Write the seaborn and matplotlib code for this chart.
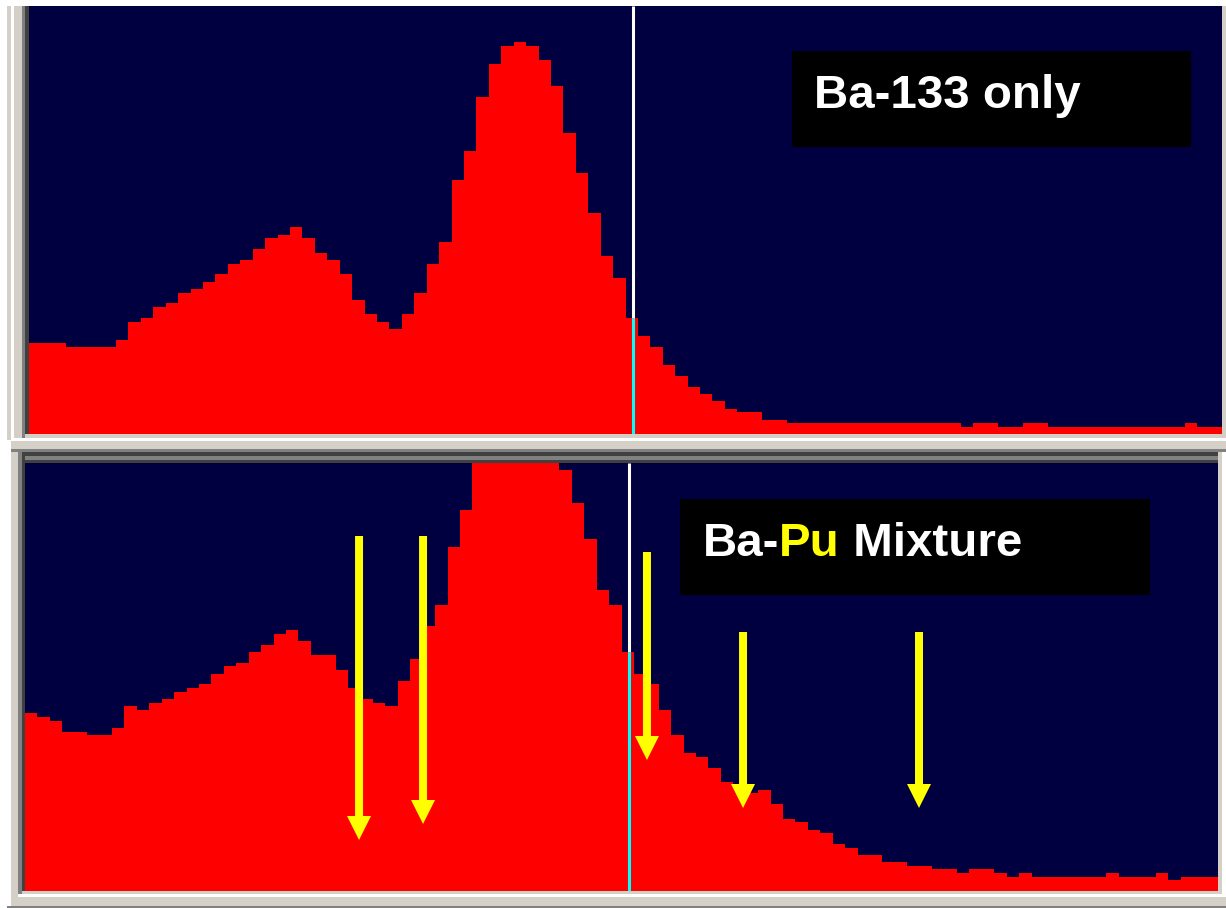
import matplotlib
matplotlib.use("Agg")
import matplotlib.pyplot as plt
from matplotlib.patches import Rectangle
import numpy as np
import pandas as pd
import seaborn as sns

# --- data: counts per channel ---
channels = np.arange(96)

ba133_counts = [
    91, 91, 91, 87, 87, 87, 87, 94, 112, 116,
    127, 131, 141, 145, 152, 160, 170, 174, 185, 196,
    199, 207, 196, 181, 174, 160, 134, 120, 112, 105,
    120, 141, 170, 192, 254, 283, 337, 370, 388, 392,
    388, 374, 348, 301, 261, 221, 178, 156, 116, 98,
    87, 69, 58, 47, 40, 33, 25, 22, 22, 14,
    14, 11, 11, 11, 11, 11, 11, 11, 11, 11,
    11, 11, 11, 11, 11, 7, 11, 11, 7, 7,
    11, 11, 7, 7, 7, 7, 7, 7, 7, 7,
    7, 7, 7, 11, 7, 7,
]

# peak channels 36-42 run off the top of the display (estimated)
bapu_counts = [
    178, 174, 170, 159, 159, 156, 156, 163, 185, 181,
    188, 192, 199, 203, 207, 217, 225, 228, 239, 246,
    257, 261, 250, 236, 236, 221, 203, 192, 188, 185,
    210, 232, 265, 286, 344, 381, 445, 478, 497, 502,
    496, 478, 448, 421, 388, 352, 301, 286, 239, 217,
    207, 181, 156, 138, 134, 123, 109, 103, 98, 101,
    87, 72, 69, 61, 58, 47, 43, 36, 36, 29,
    29, 25, 25, 22, 22, 18, 22, 22, 18, 14,
    18, 14, 14, 14, 14, 14, 14, 18, 14, 14,
    14, 18, 11, 14, 14, 14,
]

y_max = 428          # full-scale of the display
cursor_channel = 48.6

# Pu lines marked with arrows on the mixture spectrum: (channel, tail, tip)
arrow_channels = [26.88, 32.03, 50.05, 57.78, 71.94]
arrow_tails = [355, 355, 339, 259, 259]
arrow_tips = [51, 67, 131, 83, 83]

NAVY = "#000040"
RED = "#ff0000"
BEIGE = "#d4d0c8"
YELLOW = "#ffff00"

W, H = 1226, 908

sns.set_style("white")
plt.rcParams["font.family"] = ["Liberation Sans", "DejaVu Sans"]

fig = plt.figure(figsize=(W / 100, H / 100), dpi=100)
fig.patch.set_facecolor("white")


def px_rect(x0, y0, x1, y1, color):
    """Rectangle given in screen pixels (top-left origin)."""
    fig.add_artist(Rectangle((x0 / W, 1 - y1 / H), (x1 - x0) / W, (y1 - y0) / H,
                             transform=fig.transFigure, facecolor=color,
                             edgecolor="none", zorder=0))


# window frames around the two panels
px_rect(7, 6, 1226, 450, BEIGE)
px_rect(11, 440, 1226, 906, BEIGE)
px_rect(11, 6, 14, 441, "white")
px_rect(11, 438, 1226, 441, "white")
px_rect(22, 6, 25, 438, "#808080")
px_rect(25, 6, 29, 434, "#404040")
px_rect(7, 449, 1226, 452, "#808080")
px_rect(18, 452, 1218, 456, "#404040")
px_rect(18, 456, 1218, 460, "#808080")
px_rect(22, 460, 1218, 463, "#404040")
px_rect(18, 452, 22, 894, "#808080")
px_rect(22, 456, 25, 891, "#404040")
px_rect(1222, 452, 1226, 897, "white")
px_rect(18, 894, 1226, 897, "white")
px_rect(0, 440, 11, 908, "white")
px_rect(7, 906, 1226, 908, "#808080")

ax_top = fig.add_axes([29 / W, (H - 434) / H, 1193 / W, 428 / H])
ax_bot = fig.add_axes([25 / W, (H - 891) / H, 1193 / W, 428 / H])

for ax, counts in [(ax_top, ba133_counts), (ax_bot, bapu_counts)]:
    ax.set_facecolor(NAVY)
    spec = pd.DataFrame({"channel": channels + 0.5, "counts": counts})
    sns.histplot(data=spec, x="channel", weights="counts", bins=96, binrange=(0, 96),
                 element="step", fill=True, color=RED, alpha=1,
                 linewidth=0, ax=ax)
    ax.set_xlim(0, 96)
    ax.set_ylim(0, y_max)
    ax.set_xticks([]); ax.set_yticks([])
    ax.set_xlabel(""); ax.set_ylabel("")
    for s in ax.spines.values():
        s.set_visible(False)
    # cursor: cream above the spectrum, cyan inside it
    h = counts[int(cursor_channel)]
    ax.vlines(cursor_channel, h, y_max, color="#fffff0", lw=2.2, zorder=5)
    ax.vlines(cursor_channel, 0, h, color="#00ffff", lw=2.2, zorder=5)

# labels in black boxes
text_kw = dict(fontsize=34.2, fontweight="bold", va="baseline")
ax_top.add_patch(Rectangle((0.6396, 0.6706), 0.3344, 0.2243, transform=ax_top.transAxes,
                           facecolor="black", edgecolor="none", zorder=6))
ax_top.text(0.658, 0.7617, "Ba-133 only", color="white", transform=ax_top.transAxes,
            zorder=7, **text_kw)

ax_bot.add_patch(Rectangle((0.549, 0.6916), 0.3940, 0.2243, transform=ax_bot.transAxes,
                           facecolor="black", edgecolor="none", zorder=6))
t1 = ax_bot.text(0.5683, 0.7827, "Ba-", color="white", transform=ax_bot.transAxes,
                 zorder=7, **text_kw)
t2 = ax_bot.annotate("Pu", xycoords=t1, xy=(1, 0), va="bottom", color=YELLOW,
                     fontsize=34.2, fontweight="bold", zorder=7)
ax_bot.annotate(" Mixture", xycoords=t2, xy=(1, 0), va="bottom", color="white",
                fontsize=34.2, fontweight="bold", zorder=7)

# yellow arrows pointing at the Pu contributions
for ch, tail, tip in zip(arrow_channels, arrow_tails, arrow_tips):
    ax_bot.annotate("", xy=(ch, tip), xytext=(ch, tail),
                    arrowprops=dict(arrowstyle="simple,head_length=1,head_width=1,tail_width=0.333",
                                    mutation_scale=17.28, fc=YELLOW, ec="none", lw=0,
                                    shrinkA=0, shrinkB=0),
                    zorder=8)

fig.savefig("out.png", dpi=100)
